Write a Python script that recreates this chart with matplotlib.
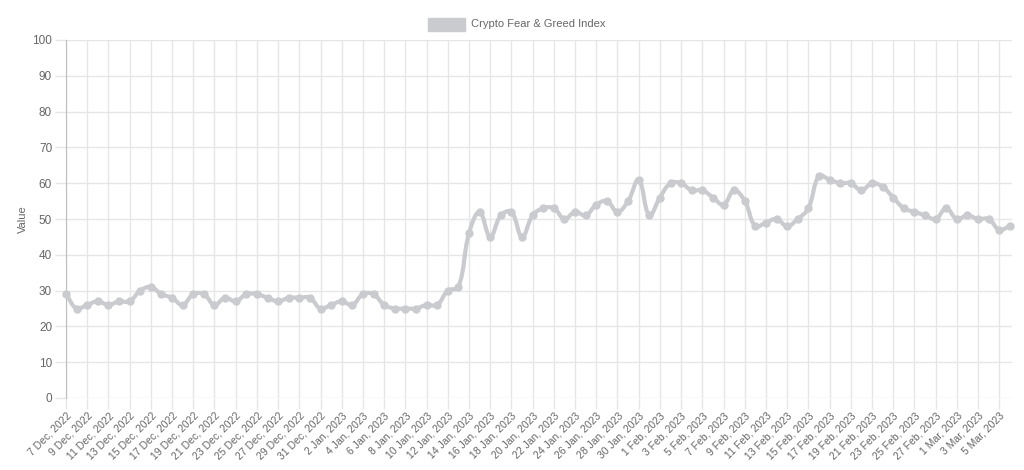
import matplotlib.pyplot as plt
import numpy as np
import pandas as pd
from matplotlib.path import Path
from matplotlib.patches import PathPatch

plt.rcParams['font.family'] = ['Liberation Sans', 'DejaVu Sans']

# daily index values, 7 Dec 2022 .. 6 Mar 2023
dates = pd.date_range('2022-12-07', '2023-03-06', freq='D')
values = [
    29, 25, 26, 27, 26, 27, 27, 30, 31, 29, 28, 26, 29, 29, 26, 28, 27, 29, 29, 28,
    27, 28, 28, 28, 25,
    26, 27, 26, 29, 29, 26, 25, 25, 25, 26, 26, 30, 31, 46, 52, 45, 51, 52, 45, 51,
    53, 53, 50, 52, 51, 54, 55, 52, 55, 61, 51,
    56, 60, 60, 58, 58, 56, 54, 58, 55, 48, 49, 50, 48, 50, 53, 62, 61, 60, 60, 58,
    60, 59, 56, 53, 52, 51, 50, 53,
    50, 51, 50, 50, 47, 48,
]
labels = [f"{d.day} {d.strftime('%b')}, {d.year}" for d in dates]
series_name = 'Crypto Fear & Greed Index'
y_ticks = list(range(0, 101, 10))

grey = '#c9cbcf'
text_c = '#666666'
grid_c = '#e6e6e6'

fig = plt.figure(figsize=(10.24, 4.70), dpi=100)
ax = fig.add_axes([66 / 1024, 1 - 398 / 470, 946 / 1024, 358 / 470])

x = np.arange(len(values))
ax.set_xlim(0, len(values) - 1 + 0.2)
ax.set_ylim(0, 100)

# smooth line like chart.js (tension 0.4), control points in pixel space
pts = ax.transData.transform(np.column_stack([x, values]))
t = 0.4
verts = [pts[0]]
codes = [Path.MOVETO]
n = len(pts)
cps = []
for i in range(n):
    p0 = pts[max(i - 1, 0)]
    p1 = pts[i]
    p2 = pts[min(i + 1, n - 1)]
    d01 = np.hypot(*(p1 - p0))
    d12 = np.hypot(*(p1 - p2))
    tot = d01 + d12
    s01 = d01 / tot if tot else 0
    s12 = d12 / tot if tot else 0
    cps.append((p1 - t * s01 * (p2 - p0), p1 + t * s12 * (p2 - p0)))
for i in range(1, n):
    verts += [cps[i - 1][1], cps[i][0], pts[i]]
    codes += [Path.CURVE4] * 3
inv = ax.transData.inverted()
path = Path(inv.transform(np.array(verts)), codes)
ax.add_patch(PathPatch(path, facecolor='none', edgecolor=grey, lw=3, zorder=3,
                       clip_on=False))
ax.plot(x, values, 'o', color=grey, ms=5, zorder=4, clip_on=False)

ax.set_xticks(x[::2])
ax.set_xticklabels(labels[::2], rotation=45, ha='right', rotation_mode='anchor',
                   fontsize=7.5, color=text_c)
ax.set_yticks(y_ticks)
ax.set_yticklabels([str(v) for v in y_ticks], fontsize=8.5, color=text_c)
ax.tick_params(axis='both', length=8, color=grid_c, width=1)
ax.tick_params(axis='x', pad=1)
ax.tick_params(axis='y', pad=2)
ax.grid(True, color=grid_c, lw=1)
ax.set_axisbelow(True)
for s in ['top', 'right', 'bottom']:
    ax.spines[s].set_visible(False)
ax.spines['left'].set_color('#bdbdbd')
ax.set_ylabel('Value', fontsize=8, color=text_c)
ax.yaxis.set_label_coords(-0.040, 0.5)

# legend
fig.patches.append(plt.Rectangle((428 / 1024, 1 - 31 / 470), 37 / 1024, 13 / 470,
                                 transform=fig.transFigure, color=grey))
fig.text(471 / 1024, 1 - 24 / 470, series_name, fontsize=8, color=text_c,
         va='center', ha='left')

fig.savefig('out.png', dpi=100)
